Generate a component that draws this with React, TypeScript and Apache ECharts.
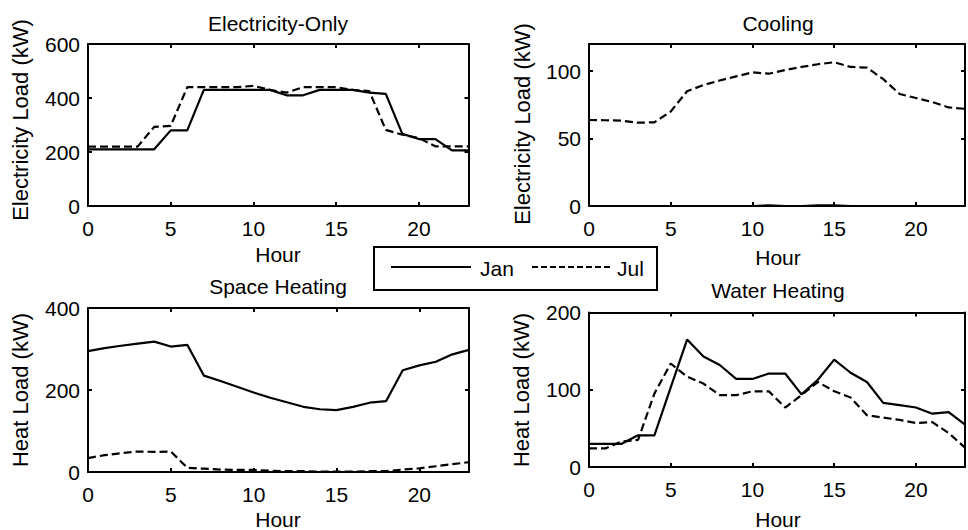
import React, { useEffect, useRef } from "react";
import * as echarts from "echarts";

// ---------- data ----------
const hours = [0, 1, 2, 3, 4, 5, 6, 7, 8, 9, 10, 11, 12, 13, 14, 15, 16, 17, 18, 19, 20, 21, 22, 23];
const seriesNames = ["Jan", "Jul"];
const panelTitles = ["Electricity-Only", "Cooling", "Space Heating", "Water Heating"];
const yAxisTitles = ["Electricity Load (kW)", "Electricity Load (kW)", "Heat Load (kW)", "Heat Load (kW)"];
const xAxisTitle = "Hour";

const elecJan = [210, 210, 210, 210, 210, 280, 280, 430, 430, 430, 430, 430, 410, 410, 430, 430, 430, 420, 415, 267, 248, 248, 206, 206];
const elecJul = [220, 220, 220, 220, 293, 297, 440, 440, 440, 440, 445, 430, 420, 440, 440, 440, 430, 426, 282, 264, 252, 221, 221, 221];

const coolJan = [0, 0, 0, 0, 0, 0, 0, 0, 0, 0, 0, 0.5, 0, 0, 0.5, 0.5, 0, 0, 0, 0, 0, 0, 0, 0];
const coolJul = [63.7, 63.5, 63.2, 61.7, 62, 70, 85, 89.6, 93, 96, 99, 98, 100.7, 103, 105, 106.5, 103, 102.5, 94, 83, 80, 77, 73, 72];

const spaceJan = [295, 302, 308, 313, 318, 306, 310, 235, 222, 208, 194, 181, 170, 159, 153, 151, 159, 169, 173, 248, 260, 269, 287, 298];
const spaceJul = [34, 41, 46, 50, 49, 50, 10, 8, 6, 5, 5, 3, 2, 2, 1, 1, 1, 2, 2, 6, 9, 14, 19, 24];

const waterJan = [30, 30, 30, 41, 41, 103, 165, 143, 132, 114, 114, 121, 121, 94, 113, 139, 122, 110, 83, 80, 77, 69, 71, 55];
const waterJul = [24, 24, 33, 35, 95, 134, 117, 108, 93, 93, 98, 98, 77, 93, 110, 98, 90, 67, 64, 61, 57, 58, 44, 25];

const xMin = 0;
const xMax = 23;
const xInterval = 5;
const yMaxes = [600, 120, 400, 200];
const yIntervals = [200, 50, 200, 100];

const panelData = [
  [elecJan, elecJul],
  [coolJan, coolJul],
  [spaceJan, spaceJul],
  [waterJan, waterJul],
];

// ---------- layout / style ----------
const FONT = '"Liberation Sans", Arial, Helvetica, sans-serif';
const FS = 21;
const FS_Y = 22;
const grids = [
  { left: 88, top: 44, width: 380.5, height: 162 },
  { left: 589, top: 44, width: 380, height: 162 },
  { left: 88, top: 308, width: 381, height: 164 },
  { left: 589, top: 312.5, width: 380, height: 154.5 },
];
const titlePos = [
  [278, 23],
  [778, 23],
  [278, 286],
  [778, 290],
];
const xNamePos = [
  [278, 254],
  [778, 257],
  [278, 519],
  [778, 519],
];
const yNamePos = [
  [20, 120],
  [522, 124],
  [20, 390],
  [521, 390],
];

function App() {
  const ref = useRef<HTMLDivElement>(null);

  useEffect(() => {
    if (!ref.current) return;
    const chart = echarts.init(ref.current, undefined, { renderer: "svg" });

    const axisLine = { show: true, onZero: false, lineStyle: { color: "#000", width: 2 } };
    const axisTick = { show: true, inside: true, length: 4, lineStyle: { color: "#000", width: 2 } };

    const xAxis: any[] = [];
    const yAxis: any[] = [];
    const series: any[] = [];
    const graphic: any[] = [];

    grids.forEach((_, i) => {
      xAxis.push({
        type: "value",
        gridIndex: i,
        position: "bottom",
        min: xMin,
        max: xMax,
        interval: xInterval,
        axisLine,
        axisTick,
        splitLine: { show: false },
        axisLabel: {
          color: "#000",
          fontSize: FS,
          fontFamily: FONT,
          margin: 12,
          formatter: (v: number) => (v % xInterval === 0 ? String(v) : ""),
        },
      });
      xAxis.push({
        type: "value",
        gridIndex: i,
        position: "top",
        min: xMin,
        max: xMax,
        interval: xInterval,
        axisLine,
        axisTick,
        splitLine: { show: false },
        axisLabel: { show: false },
      });
      yAxis.push({
        type: "value",
        gridIndex: i,
        position: "left",
        min: 0,
        max: yMaxes[i],
        interval: yIntervals[i],
        axisLine,
        axisTick,
        splitLine: { show: false },
        axisLabel: {
          color: "#000",
          fontSize: FS,
          fontFamily: FONT,
          margin: 8,
          formatter: (v: number) => (v % yIntervals[i] === 0 ? String(v) : ""),
        },
      });
      yAxis.push({
        type: "value",
        gridIndex: i,
        position: "right",
        min: 0,
        max: yMaxes[i],
        interval: yIntervals[i],
        axisLine,
        axisTick,
        splitLine: { show: false },
        axisLabel: { show: false },
      });

      panelData[i].forEach((vals, k) => {
        series.push({
          type: "line",
          name: seriesNames[k],
          xAxisIndex: i * 2,
          yAxisIndex: i * 2,
          data: hours.map((h, j) => [h, vals[j]]),
          showSymbol: false,
          symbol: "none",
          lineStyle: {
            color: "#000",
            width: 2.2,
            type: k === 0 ? "solid" : [8, 4],
          },
          z: 3,
        });
      });

      graphic.push({
        type: "text",
        x: titlePos[i][0],
        y: titlePos[i][1],
        style: {
          text: panelTitles[i],
          fill: "#000",
          font: `${FS}px ${FONT}`,
          textAlign: "center",
          textVerticalAlign: "middle",
        },
      });
      graphic.push({
        type: "text",
        x: xNamePos[i][0],
        y: xNamePos[i][1],
        style: {
          text: xAxisTitle,
          fill: "#000",
          font: `${FS}px ${FONT}`,
          textAlign: "center",
          textVerticalAlign: "middle",
        },
      });
      graphic.push({
        type: "text",
        x: yNamePos[i][0],
        y: yNamePos[i][1],
        rotation: Math.PI / 2,
        style: {
          text: yAxisTitles[i],
          fill: "#000",
          font: `${FS_Y}px ${FONT}`,
          textAlign: "center",
          textVerticalAlign: "middle",
        },
      });
    });

    // legend box
    graphic.push({
      type: "group",
      z: 10,
      children: [
        {
          type: "rect",
          shape: { x: 374, y: 247, width: 283, height: 43 },
          style: { fill: "#fff", stroke: "#000", lineWidth: 2 },
        },
        {
          type: "line",
          shape: { x1: 391, y1: 267, x2: 471, y2: 267 },
          style: { stroke: "#000", lineWidth: 2 },
        },
        {
          type: "text",
          x: 480,
          y: 268,
          style: {
            text: seriesNames[0],
            fill: "#000",
            font: `${FS}px ${FONT}`,
            textAlign: "left",
            textVerticalAlign: "middle",
          },
        },
        {
          type: "line",
          shape: { x1: 532, y1: 267, x2: 610, y2: 267 },
          style: { stroke: "#000", lineWidth: 2, lineDash: [6, 3] },
        },
        {
          type: "text",
          x: 617,
          y: 268,
          style: {
            text: seriesNames[1],
            fill: "#000",
            font: `${FS}px ${FONT}`,
            textAlign: "left",
            textVerticalAlign: "middle",
          },
        },
      ],
    });

    chart.setOption({
      animation: false,
      backgroundColor: "#fff",
      grid: grids.map((g) => ({ ...g, containLabel: false })),
      xAxis,
      yAxis,
      series,
      graphic,
    });

    return () => chart.dispose();
  }, []);

  return (
    <div
      ref={ref}
      style={{ position: "absolute", left: 0, top: 0, width: 968, height: 530, background: "#fff" }}
    />
  );
}

export default App;
